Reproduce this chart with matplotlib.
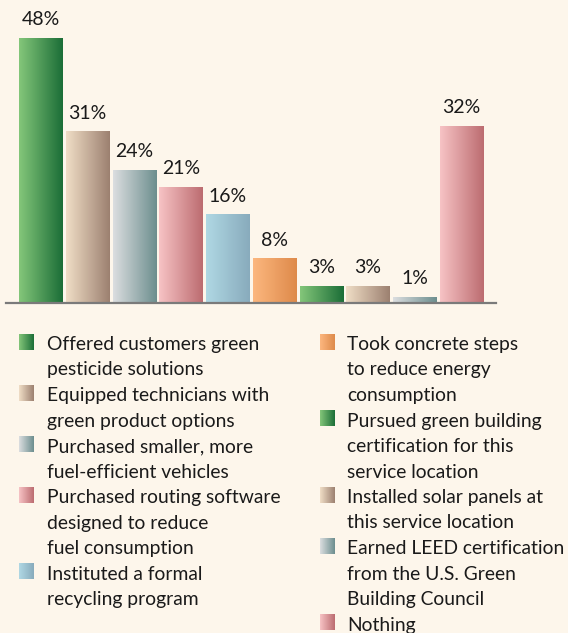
import numpy as np
import matplotlib
matplotlib.use("Agg")
import matplotlib.pyplot as plt
from matplotlib.colors import LinearSegmentedColormap

plt.rcParams['font.family'] = ['Lato', 'DejaVu Sans']

# dados
valores = [48, 31, 24, 21, 16, 8, 3, 3, 1, 32]
rotulos = ["48%", "31%", "24%", "21%", "16%", "8%", "3%", "3%", "1%", "32%"]
legenda = [
    "Offered customers green\npesticide solutions",
    "Equipped technicians with\ngreen product options",
    "Purchased smaller, more\nfuel-efficient vehicles",
    "Purchased routing software\ndesigned to reduce\nfuel consumption",
    "Instituted a formal\nrecycling program",
    "Took concrete steps\nto reduce energy\nconsumption",
    "Pursued green building\ncertification for this\nservice location",
    "Installed solar panels at\nthis service location",
    "Earned LEED certification\nfrom the U.S. Green\nBuilding Council",
    "Nothing",
]

# gradientes (esquerda -> direita)
verde = ("#84c67a", "#1b6e37")
bege = ("#f0dec6", "#9c8070")
cinza = ("#dcdee0", "#6c8e8e")
rosa = ("#f7c3c5", "#bc6c70")
azul = ("#b0d8e4", "#88abbc")
laranja = ("#fcb77f", "#de8a4a")
cores = [verde, bege, cinza, rosa, azul, laranja, verde, bege, cinza, rosa]

fundo = "#fdf6eb"
W, H = 568, 633

fig = plt.figure(figsize=(W / 100, H / 100), dpi=100, facecolor=fundo)

# =============================================================================
#     grafico de barras
# =============================================================================
ax = fig.add_axes([6 / W, (H - 303) / H, 490 / W, 298 / H])
ax.set_facecolor(fundo)
ax.patch.set_alpha(0)

grad = np.linspace(0, 1, 256).reshape(1, -1)
largura = 0.92
for i, v in enumerate(valores):
    cmap = LinearSegmentedColormap.from_list("c%d" % i, cores[i])
    ax.imshow(grad, cmap=cmap, aspect='auto', interpolation='bilinear',
              extent=[i - largura / 2, i + largura / 2, 0, v], zorder=2)
    ax.annotate(rotulos[i], (i, v), xytext=(0, 9.5), textcoords='offset points',
                ha='center', va='baseline', fontsize=14, color='#1a1a1a',
                annotation_clip=False)

ax.set_xlim(-0.737, 9.737)
ax.set_ylim(0, 54)
for s in ['top', 'right', 'left']:
    ax.spines[s].set_visible(False)
ax.spines['bottom'].set_color('#7a7a7a')
ax.spines['bottom'].set_linewidth(1.6)
ax.spines['bottom'].set_zorder(3)
ax.set_xticks([])
ax.set_yticks([])

# =============================================================================
#     legenda em duas colunas
# =============================================================================
lg = fig.add_axes([0, 0, 1, 1])
lg.set_xlim(0, W)
lg.set_ylim(H, 0)
lg.axis('off')

passo = 25.5
colunas = [(19, 47, range(0, 5)), (320, 347, range(5, 10))]
for xq, xt, itens in colunas:
    y = 350
    for k in itens:
        cmap = LinearSegmentedColormap.from_list("l%d" % k, cores[k])
        lg.imshow(grad, cmap=cmap, aspect='auto', interpolation='bilinear',
                  extent=[xq, xq + 15, y, y - 15.5])
        for linha in legenda[k].split("\n"):
            lg.text(xt, y, linha, fontsize=13.9, color='#1a1a1a',
                    ha='left', va='baseline')
            y += passo

fig.savefig("out.png", dpi=100, facecolor=fundo)
